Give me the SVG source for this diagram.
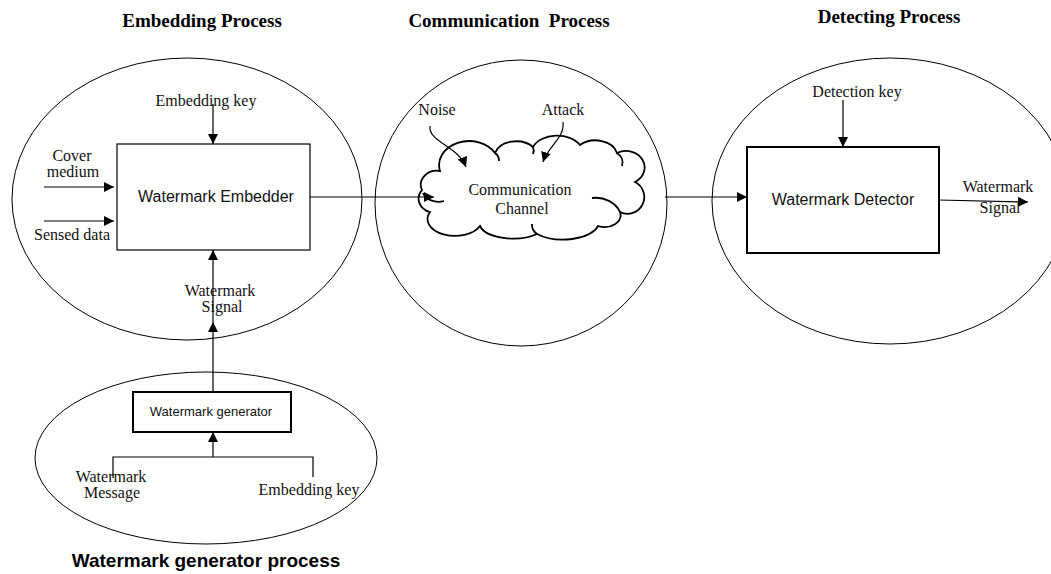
<svg xmlns="http://www.w3.org/2000/svg" width="1051" height="574" viewBox="0 0 1051 574">
  <defs>
    <marker id="arrow" viewBox="0 0 10 10" refX="10" refY="5" markerWidth="10" markerHeight="10" markerUnits="userSpaceOnUse" orient="auto">
      <path d="M0,0 L10,5 L0,10 Z" fill="#000"/>
    </marker>
    <style>
      .region { fill: none; stroke: #000; stroke-width: 1; }
      .box { fill: #fff; stroke: #000; stroke-width: 1.2; }
      .box-bold { fill: #fff; stroke: #000; stroke-width: 2; }
      .wire { fill: none; stroke: #000; stroke-width: 1.2; }
      .arrow { fill: none; stroke: #000; stroke-width: 1.2; marker-end: url(#arrow); }
      .cloud { fill: #fff; stroke: #000; stroke-width: 1.8; }
      .hook { fill: none; stroke: #000; stroke-width: 1.8; }
      .serif { font-family: "Liberation Serif", "Times New Roman", serif; font-size: 16px; fill: #111; text-anchor: middle; }
      .sans { font-family: "Liberation Sans", Arial, sans-serif; font-size: 16px; fill: #111; text-anchor: middle; }
      .sans-small { font-family: "Liberation Sans", Arial, sans-serif; font-size: 13px; fill: #111; text-anchor: middle; }
      .title { font-family: "Liberation Serif", "Times New Roman", serif; font-size: 19px; font-weight: bold; fill: #000; text-anchor: middle; }
      .title-sans { font-family: "Liberation Sans", Arial, sans-serif; font-size: 19px; font-weight: bold; fill: #000; text-anchor: middle; }
    </style>
  </defs>

  <!-- stage titles -->
  <g id="titles">
    <text class="title" x="202" y="27">Embedding Process</text>
    <text class="title" x="509" y="27" xml:space="preserve">Communication  Process</text>
    <text class="title" x="889" y="23">Detecting Process</text>
    <text class="title-sans" x="206" y="567">Watermark generator process</text>
  </g>

  <!-- stage regions -->
  <g id="embedding-process">
    <ellipse class="region" cx="187" cy="199" rx="175" ry="141"/>
  </g>
  <g id="communication-process">
    <ellipse class="region" cx="521" cy="203" rx="146" ry="143"/>
  </g>
  <g id="detecting-process">
    <ellipse class="region" cx="890" cy="201" rx="178" ry="143"/>
  </g>
  <g id="generator-process">
    <ellipse class="region" cx="206" cy="458" rx="171" ry="86"/>
  </g>

  <!-- channel cloud -->
  <g id="communication-channel">
    <path class="cloud" d="M440,171
      A30,24 0 0 1 495,153
      A22,16 0 0 1 533,147
      A26,18 0 0 1 580,145
      A22,16 0 0 1 617,153
      A18,16 0 0 1 635,182
      A16,16 0 0 1 620,212
      A16,12 0 0 1 598,226
      A36,18 0 0 1 537,234
      A34,16 0 0 1 480,226
      A26,16 0 0 1 430,212
      A16,14 0 0 1 422,190
      A16,14 0 0 1 440,171 Z"/>
    <path class="hook" d="M423,193 A16,12 0 0 0 444,201"/>
    <path class="hook" d="M592,198 A26,22 0 0 1 620,212"/>
    <path class="hook" d="M495,153 A12,10 0 0 1 499,161"/>
    <path class="hook" d="M533,147 A12,10 0 0 1 533,154"/>
    <path class="hook" d="M617,153 A14,12 0 0 1 622,166"/>
    <path class="hook" d="M537,234 A14,12 0 0 1 532,224"/>
    <text class="serif" x="520" y="195">Communication</text>
    <text class="serif" x="522" y="214">Channel</text>
  </g>

  <!-- connectors -->
  <g id="connectors">
    <line class="arrow" x1="213" y1="104" x2="213" y2="144"/>
    <line class="arrow" x1="44" y1="187" x2="114" y2="187"/>
    <line class="arrow" x1="44" y1="221" x2="114" y2="221"/>
    <line class="arrow" x1="213" y1="285" x2="213" y2="250"/>
    <line class="arrow" x1="213" y1="392" x2="213" y2="322"/>
    <line class="wire" x1="213" y1="322" x2="213" y2="285"/>
    <line class="arrow" x1="310" y1="197" x2="434" y2="197"/>
    <line class="arrow" x1="665" y1="197" x2="747" y2="197"/>
    <line class="arrow" x1="843" y1="100" x2="843" y2="147"/>
    <line class="arrow" x1="939" y1="200" x2="1028" y2="202"/>
    <path class="arrow" d="M430,126 C428,142 458,146 466,167"/>
    <path class="arrow" d="M563,122 C565,138 548,146 543,162"/>
    <path class="wire" d="M113,478 L113,457 L313,457 L313,477"/>
    <line class="arrow" x1="213" y1="457" x2="213" y2="432"/>
  </g>

  <!-- embedder -->
  <g id="watermark-embedder">
    <rect class="box" x="117" y="144" width="193" height="106"/>
    <text class="sans" x="216" y="202">Watermark Embedder</text>
  </g>
  <g id="embedding-key">
    <text class="serif" x="206" y="106">Embedding key</text>
  </g>
  <g id="cover-medium">
    <text class="serif" x="72" y="161">Cover</text>
    <text class="serif" x="73" y="177">medium</text>
  </g>
  <g id="sensed-data">
    <text class="serif" x="72" y="240">Sensed data</text>
  </g>
  <g id="watermark-signal-in">
    <text class="serif" x="220" y="296">Watermark</text>
    <text class="serif" x="222" y="312">Signal</text>
  </g>
  <g id="noise">
    <text class="serif" x="437" y="115">Noise</text>
  </g>
  <g id="attack">
    <text class="serif" x="563" y="115">Attack</text>
  </g>

  <!-- detector -->
  <g id="watermark-detector">
    <rect class="box-bold" x="747" y="147" width="192" height="106"/>
    <text class="sans" x="843" y="205">Watermark Detector</text>
  </g>
  <g id="detection-key">
    <text class="serif" x="857" y="97">Detection key</text>
  </g>
  <g id="watermark-signal-out">
    <text class="serif" x="998" y="192">Watermark</text>
    <text class="serif" x="1000" y="213">Signal</text>
  </g>

  <!-- generator -->
  <g id="watermark-generator">
    <rect class="box-bold" x="133" y="392" width="158" height="40"/>
    <text class="sans-small" x="211" y="416">Watermark generator</text>
  </g>
  <g id="watermark-message">
    <text class="serif" x="111" y="482">Watermark</text>
    <text class="serif" x="112" y="498">Message</text>
  </g>
  <g id="generator-embedding-key">
    <text class="serif" x="309" y="495">Embedding key</text>
  </g>
</svg>
